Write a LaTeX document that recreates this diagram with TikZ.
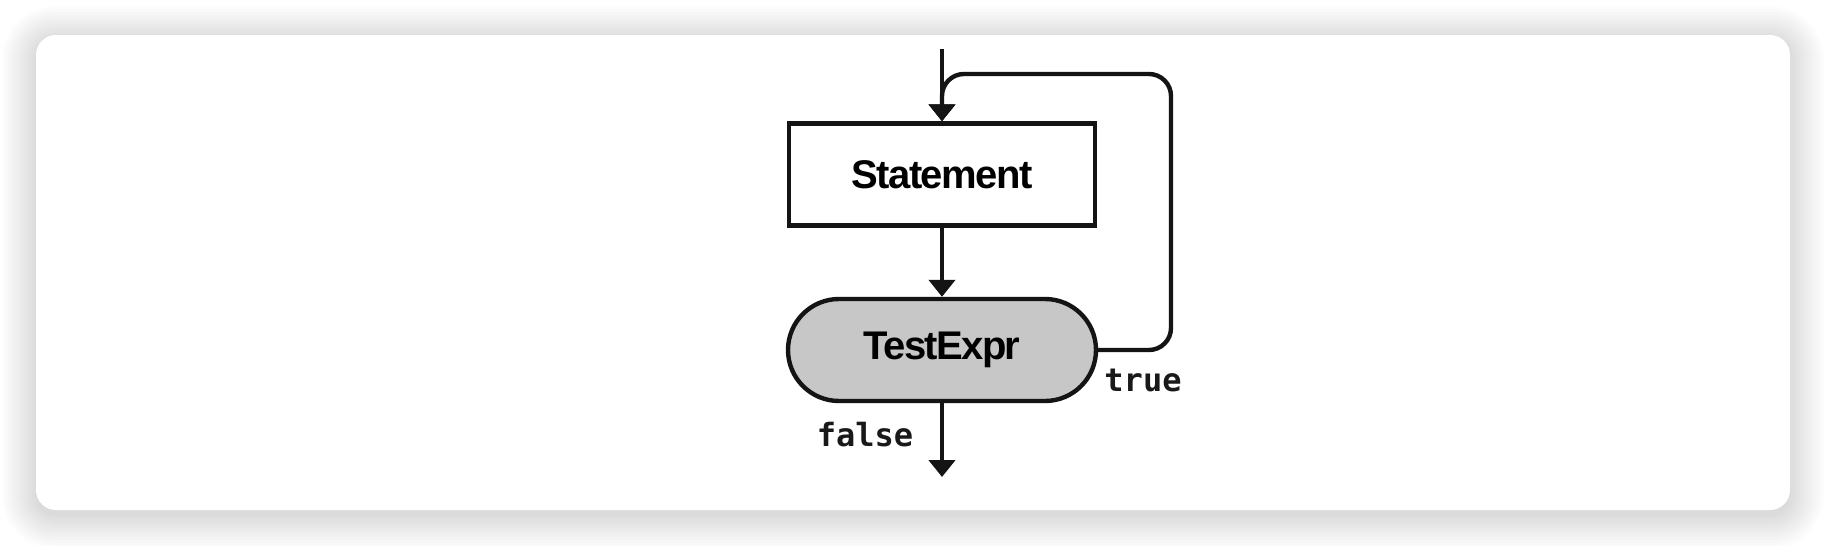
\documentclass[tikz,border=0pt]{standalone}
\usepackage{fontspec}
\setmainfont{Liberation Sans}
\newfontfamily\monofnt{DejaVu Sans Mono}
\usetikzlibrary{arrows.meta}
\tikzset{
  x=1pt, y=-1pt,
  flowline/.style={line width=4.4pt, draw=black!92},
  flowarrow/.style={flowline, -{Triangle[length=17pt,width=26pt]}},
  boxfont/.style={font=\fontsize{40}{44}\selectfont\bfseries\addfontfeatures{LetterSpace=-4}},
  stmtbox/.style={draw=black!92, line width=4.4pt, fill=white, minimum width=306pt, minimum height=102pt, inner sep=0pt, boxfont},
  testbox/.style={draw=black!92, line width=4.4pt, fill=black!22, rounded corners=51pt, minimum width=308pt, minimum height=102pt, inner sep=0pt, boxfont},
  codelabel/.style={font=\monofnt\bfseries\fontsize{32}{36}\selectfont, inner sep=0pt, text=black!90}
}
\begin{document}
\begin{tikzpicture}
\useasboundingbox (0,0) rectangle (1826,546);
% background and card with soft shadow
\fill[white] (0,0) rectangle (1826,546);
\foreach \d in {34,31,...,1}{
  \fill[black, opacity=0.011, rounded corners=20pt+\d pt] (36-\d,35-\d+5) rectangle (1790+\d,510+\d+5);
}
\fill[white, rounded corners=20pt] (36,35) rectangle (1790,510);
% nodes
\node[stmtbox] (stmt) at (942,174.5) {Statement};
\node[testbox] (test) at (942,350) {TestExpr};
\coordinate (entry) at (942,49);
\coordinate (exit) at (942,477);
\coordinate (loopR) at (1171,74);
% connectors
\draw[flowarrow] (entry) -- (stmt.north);
\draw[flowarrow] (stmt.south) -- (test.north);
\draw[flowarrow] (test.south) -- (exit);
\draw[flowarrow, rounded corners=22pt] (test.east) -| (loopR) -| (stmt.north);
% labels
\node[codelabel] (truelbl) at (1143,380) {true};
\node[codelabel] (falselbl) at (865,435) {false};
\end{tikzpicture}
\end{document}
